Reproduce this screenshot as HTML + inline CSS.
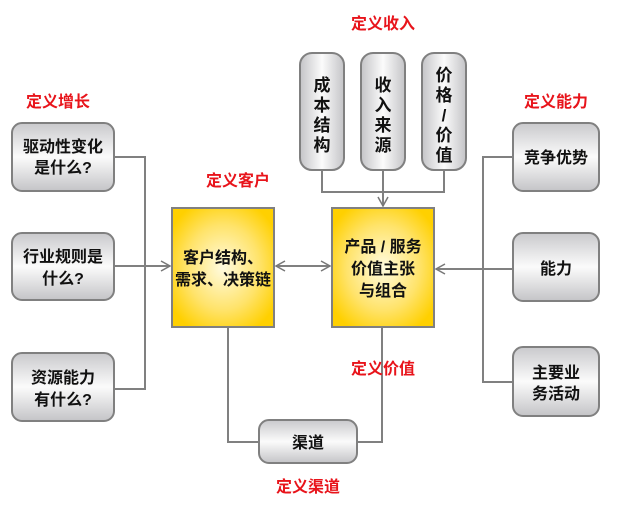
<!DOCTYPE html>
<html><head><meta charset="utf-8"><style>
body{margin:0;background:#fff;width:638px;height:508px;overflow:hidden}
svg text{font-family:"Liberation Sans","Noto Sans CJK SC",sans-serif;font-weight:bold}
</style></head><body>
<svg width="638" height="508" viewBox="0 0 638 508">
<defs>
<linearGradient id="g" x1="0" y1="0" x2="0" y2="1">
<stop offset="0" stop-color="#c9c9cc"/><stop offset="0.5" stop-color="#fbfbfb"/><stop offset="1" stop-color="#c4c4c7"/></linearGradient>
<linearGradient id="gh" x1="0" y1="0" x2="1" y2="0">
<stop offset="0" stop-color="#c4c4c7"/><stop offset="0.5" stop-color="#fbfbfb"/><stop offset="1" stop-color="#c4c4c7"/></linearGradient>
<radialGradient id="y" cx="0.5" cy="0.5" r="0.6">
<stop offset="0" stop-color="#fffbe0"/><stop offset="0.6" stop-color="#ffe36a"/><stop offset="1" stop-color="#ffd000"/></radialGradient>
<marker id="a" markerWidth="12" markerHeight="12" refX="10" refY="6" orient="auto" markerUnits="userSpaceOnUse">
<path d="M1,1 L10,6 L1,11" fill="none" stroke="#777" stroke-width="1.5"/></marker>
<marker id="as" markerWidth="12" markerHeight="12" refX="10" refY="6" orient="auto-start-reverse" markerUnits="userSpaceOnUse">
<path d="M1,1 L10,6 L1,11" fill="none" stroke="#777" stroke-width="1.5"/></marker>
</defs>
<g stroke="#808080" stroke-width="2" fill="none">
<path d="M114,157 H145 V389 H114"/>
<path d="M114,266 H170" marker-end="url(#a)"/>
<path d="M513,157 H483 V382 H513"/>
<path d="M513,269 H436" marker-end="url(#a)"/>
<path d="M276,266 H330" marker-start="url(#as)" marker-end="url(#a)"/>
<path d="M322,170 V192 H444 V170"/>
<path d="M383,170 V206" marker-end="url(#a)"/>
<path d="M228,327 V442 H259"/>
<path d="M382,327 V442 H357"/>
</g>
<g stroke="#808080" stroke-width="2">
<rect x="12" y="123" width="102" height="68" rx="10" fill="url(#g)"/>
<rect x="12" y="233" width="102" height="67" rx="10" fill="url(#g)"/>
<rect x="12" y="353" width="102" height="68" rx="10" fill="url(#g)"/>
<rect x="513" y="123" width="86" height="68" rx="10" fill="url(#g)"/>
<rect x="513" y="233" width="86" height="68" rx="10" fill="url(#g)"/>
<rect x="513" y="347" width="86" height="69" rx="10" fill="url(#g)"/>
<rect x="300" y="53" width="44" height="117" rx="12" fill="url(#gh)"/>
<rect x="361" y="53" width="44" height="117" rx="12" fill="url(#gh)"/>
<rect x="422" y="53" width="44" height="117" rx="12" fill="url(#gh)"/>
<rect x="259" y="420" width="98" height="43" rx="10" fill="url(#g)"/>
<rect x="172" y="208" width="102" height="119" fill="url(#y)"/>
<rect x="332" y="208" width="102" height="119" fill="url(#y)"/>
</g>
<g font-size="16" fill="#111" text-anchor="middle">
<text x="63" y="152">驱动性变化</text><text x="63" y="173">是什么?</text>
<text x="63" y="262">行业规则是</text><text x="63" y="284">什么?</text>
<text x="63" y="383">资源能力</text><text x="63" y="405">有什么?</text>
<text x="556" y="163">竞争优势</text>
<text x="556" y="274">能力</text>
<text x="556" y="378">主要业</text><text x="556" y="399">务活动</text>
<text x="308" y="448">渠道</text>
<text x="223" y="263">客户结构、</text><text x="223" y="285">需求、决策链</text>
<text x="383" y="252">产品 / 服务</text><text x="383" y="274">价值主张</text><text x="383" y="296">与组合</text>
</g>
<g font-size="17" fill="#111" text-anchor="middle">
<text x="322" y="91">成</text><text x="322" y="111">本</text><text x="322" y="131">结</text><text x="322" y="151">构</text>
<text x="383" y="91">收</text><text x="383" y="111">入</text><text x="383" y="131">来</text><text x="383" y="151">源</text>
<text x="444" y="81">价</text><text x="444" y="101">格</text><text x="444" y="121">/</text><text x="444" y="141">价</text><text x="444" y="161">值</text>
</g>
<g font-size="16" fill="#e8141b" text-anchor="middle">
<text x="383" y="29">定义收入</text>
<text x="58" y="107">定义增长</text>
<text x="556" y="107">定义能力</text>
<text x="238" y="186">定义客户</text>
<text x="383" y="374">定义价值</text>
<text x="308" y="492">定义渠道</text>
</g>
</svg>
</body></html>
